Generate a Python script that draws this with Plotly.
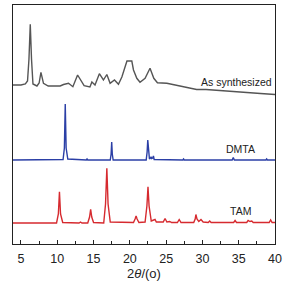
import plotly.graph_objects as go

# As synthesized (gray) (2θ, offset intensity)
as_x = [3.9, 5.0, 5.6, 5.9, 6.1, 6.28, 6.45, 6.65, 7.2, 7.5, 7.75, 8.1, 8.75, 9.5, 10.4, 10.86, 11.55,
        12.15, 12.8, 13.7, 14.5, 14.77, 15.2, 15.8, 16.36, 16.83, 17.28, 17.88, 18.43, 18.9, 19.3,
        19.6, 20.27, 20.5, 20.96, 21.4, 22.1, 22.78, 23.3, 23.8, 25.1, 26.9, 28.3, 29.2, 30.5, 32.4,
        34.0, 36.1, 38.0, 39.5, 40.0]
as_y = [159, 159, 160, 163, 185, 219.7, 185, 160, 158, 161, 171.7, 160.7, 158, 158, 158, 159.5, 160.7,
        157.3, 169, 158.3, 157, 162, 159, 170.3, 164, 169.5, 160.7, 164, 159.7, 167, 177,
        183, 183, 174, 165.7, 161.7, 165.7, 175.7, 165.7, 161.3, 160.7, 158.3, 155.7, 154.5, 154.5, 153.3,
        152.5, 151.3, 150.5, 149.7, 149.5]

# DMTA (blue)
dmta_x = [3.9, 10.8, 10.98, 11.1, 11.22, 11.45, 14.0, 14.1, 14.2, 17.3, 17.42, 17.5, 17.58, 17.7,
          22.25, 22.38, 22.47, 22.56, 22.7, 22.85, 22.92, 23.0, 23.15, 23.25, 23.35, 27.3, 27.4, 27.5,
          34.1, 34.25, 34.4, 38.75, 38.85, 38.95, 40.0]
dmta_y = [84, 84.5, 96, 140, 96, 85, 84, 85, 84, 84, 90, 102, 90, 84, 84, 92, 104, 92, 85, 86, 87.3,
          85.5, 86, 88, 84.5, 84, 85, 84, 84, 86.5, 84, 84, 85, 84, 84]

# TAM (red)
tam_x = [3.9, 9.9, 10.15, 10.3, 10.45, 10.75, 13.0, 13.2, 13.4, 14.2, 14.45, 14.6, 14.75, 15.0,
         16.4, 16.65, 16.83, 17.0, 17.3, 20.5, 20.72, 20.86, 21.0, 21.25, 22.1, 22.35, 22.5, 22.65,
         22.95, 23.3, 23.47, 23.65, 24.6, 24.85, 25.1, 25.5, 25.75, 26.55, 26.8, 27.05, 28.8, 29.0,
         29.1, 29.25, 29.5, 29.8, 30.1, 30.8, 31.0, 31.2, 34.3, 34.5, 34.7, 36.1, 36.3, 36.55, 36.8,
         37.0, 39.2, 39.4, 39.6, 40.0]
tam_y = [21, 21, 30, 52.3, 30, 21.5, 21, 22, 21, 21, 27, 34.7, 27, 21.5, 21, 40, 75.7, 40, 22, 21.5,
         25, 28, 25, 21.5, 22, 38, 57.3, 38, 23, 23.5, 24.5, 22, 22, 25.5, 22, 22.5, 21.5, 21.5, 24.5,
         21.5, 21.5, 25, 29.5, 25, 22.5, 24.5, 22, 21.5, 23, 21.5, 21.5, 23.5, 21.5, 21.5, 23.5, 22.5,
         23, 21.5, 21.5, 24, 21.5, 21.5]

labels = ["As synthesized", "DMTA", "TAM"]
label_x = [34.7, 35.2, 35.2]
label_y = [162.5, 95.5, 33.5]
colors = ["#555555", "#2b3fa6", "#d62a2f"]

fig = go.Figure()
for xs, ys, c in [(as_x, as_y, colors[0]), (dmta_x, dmta_y, colors[1]), (tam_x, tam_y, colors[2])]:
    fig.add_trace(go.Scatter(x=xs, y=ys, mode="lines", line=dict(color=c, width=1.4), showlegend=False))

for t, lx, ly in zip(labels, label_x, label_y):
    fig.add_annotation(x=lx, y=ly, text=t, showarrow=False, xanchor="center", yanchor="middle",
                       font=dict(family="Liberation Sans, Arial", size=10.5, color="#222"))

fig.update_layout(
    width=303, height=289,
    margin=dict(l=13, r=28, t=5, b=45),
    paper_bgcolor="white", plot_bgcolor="white",
    font=dict(family="Liberation Sans, Arial", color="#222"),
)
fig.update_xaxes(range=[3.9, 40], tickvals=[5, 10, 15, 20, 25, 30, 35, 40],
                 ticks="inside", ticklen=4, tickwidth=1, tickcolor="#222",
                 minor=dict(ticks="inside", dtick=2.5, tick0=0, ticklen=3, tickcolor="#222"),
                 showline=True, linecolor="#222", linewidth=1, mirror=True, showgrid=False, zeroline=False,
                 tickfont=dict(size=12.5), ticklabelstandoff=3,
                 title=dict(text="2<i>θ</i>/(o)", font=dict(size=13), standoff=2))
fig.update_yaxes(range=[0, 239], showticklabels=False, ticks="", showline=True, linecolor="#222",
                 linewidth=1, mirror=True, showgrid=False, zeroline=False)

fig.write_html("out.html", config={"displayModeBar": False},
               post_script="document.body.style.margin='0';document.body.style.overflow='hidden';")
